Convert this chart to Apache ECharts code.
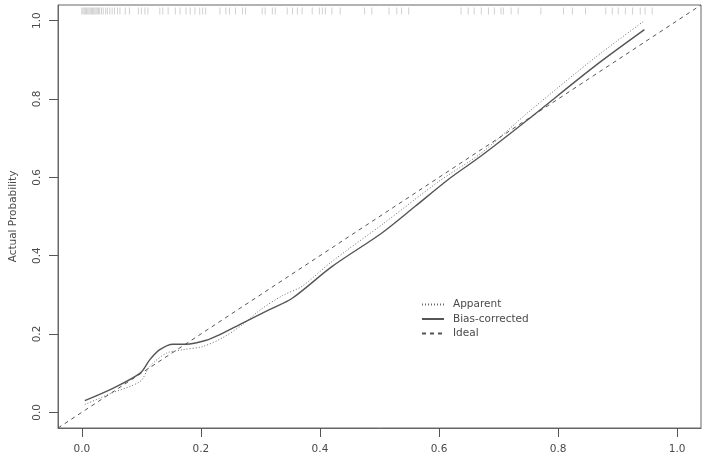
<!DOCTYPE html>
<html>
<head>
<meta charset="utf-8">
<script src="https://cdn.jsdelivr.net/npm/echarts@6/dist/echarts.min.js"></script>
<style>
html, body { margin: 0; padding: 0; background: #fff; }
#chart { width: 708px; height: 459px; }
</style>
</head>
<body>
<div id="chart"></div>
<script>
// tick labels
var tickValues = [0, 0.2, 0.4, 0.6, 0.8, 1.0];

// apparent calibration curve (predicted, actual)
var apparent = [
    [0.005, 0.020], [0.050, 0.049], [0.098, 0.079], [0.114, 0.117], [0.142, 0.151],
    [0.170, 0.160], [0.203, 0.168], [0.236, 0.190], [0.270, 0.224], [0.300, 0.262],
    [0.337, 0.298], [0.370, 0.322], [0.420, 0.385], [0.504, 0.479], [0.600, 0.590],
    [0.671, 0.662], [0.749, 0.765], [0.860, 0.903], [0.945, 1.000]
];

// bias-corrected curve
var biasCorrected = [
    [0.005, 0.030], [0.053, 0.062], [0.098, 0.100], [0.114, 0.134], [0.131, 0.160],
    [0.153, 0.174], [0.175, 0.174], [0.209, 0.184], [0.231, 0.198], [0.270, 0.228],
    [0.315, 0.262], [0.354, 0.292], [0.420, 0.372], [0.504, 0.458], [0.560, 0.526],
    [0.615, 0.594], [0.671, 0.655], [0.749, 0.747], [0.860, 0.882], [0.945, 0.977]
];

// ideal line, corner to corner
var ideal = [[-0.04, -0.04], [1.04, 1.04]];

// rug of predicted probabilities along the top
var rug = [
    0.000, 0.002, 0.004, 0.006, 0.008, 0.010, 0.012, 0.014, 0.016, 0.018,
    0.020, 0.022, 0.024, 0.026, 0.028, 0.030, 0.033, 0.036, 0.040, 0.043,
    0.047, 0.051, 0.055, 0.060, 0.064, 0.073, 0.080, 0.095, 0.100, 0.106,
    0.111, 0.131, 0.136, 0.145, 0.157, 0.165, 0.175, 0.182, 0.190, 0.198,
    0.203, 0.208, 0.232, 0.242, 0.248, 0.258, 0.270, 0.275, 0.303, 0.308,
    0.320, 0.325, 0.345, 0.354, 0.362, 0.370, 0.387, 0.399, 0.404, 0.409,
    0.420, 0.434, 0.475, 0.487, 0.516, 0.529, 0.537, 0.549, 0.637, 0.649,
    0.659, 0.671, 0.683, 0.693, 0.704, 0.708, 0.721, 0.733, 0.771, 0.809,
    0.824, 0.846, 0.880, 0.891, 0.901, 0.913, 0.925, 0.938, 0.946, 0.958
];

var font = 'DejaVu Sans';
var textColor = '#4a4a4a';

function axisBase() {
    return {
        type: 'value',
        min: -0.04,
        max: 1.04,
        axisLine: { show: true, onZero: false, lineStyle: { color: '#666' } },
        splitLine: { show: false },
        axisTick: {
            show: true,
            length: 9,
            customValues: tickValues,
            lineStyle: { color: '#555', width: 1 }
        },
        axisLabel: {
            customValues: tickValues,
            color: textColor,
            fontFamily: font,
            fontSize: 10.5,
            formatter: function (v) { return v.toFixed(1); }
        }
    };
}

var xAxis = axisBase();
xAxis.axisLabel.margin = 16;

var yAxis = axisBase();
yAxis.axisLabel.rotate = 90;
yAxis.axisLabel.margin = 15;
yAxis.name = 'Actual Probability';
yAxis.nameLocation = 'middle';
yAxis.nameRotate = 90;
yAxis.nameGap = 39;
yAxis.nameTextStyle = { color: textColor, fontFamily: font, fontSize: 10.5 };

var chart = echarts.init(document.getElementById('chart'));
chart.setOption({
    animation: false,
    grid: {
        left: 54, right: 7, top: 5, bottom: 31,
        show: true,
        borderColor: '#666'
    },
    legend: {
        orient: 'vertical',
        left: 416,
        top: 294,
        itemWidth: 22,
        itemHeight: 10,
        itemGap: 3.5,
        itemStyle: { opacity: 0 },
        textStyle: { color: textColor, fontFamily: font, fontSize: 10.5, padding: [0, 0, 0, 4] },
        data: ['Apparent', 'Bias-corrected', 'Ideal']
    },
    xAxis: xAxis,
    yAxis: yAxis,
    series: [
        {
            name: 'Apparent',
            type: 'line',
            data: apparent,
            symbol: 'none',
            smooth: 0.3,
            lineStyle: { color: '#6a6a6a', width: 1, type: [1, 2] },
            itemStyle: { color: '#6a6a6a' }
        },
        {
            name: 'Bias-corrected',
            type: 'line',
            data: biasCorrected,
            symbol: 'none',
            smooth: 0.3,
            lineStyle: { color: '#555', width: 1.4, type: 'solid' },
            itemStyle: { color: '#555' }
        },
        {
            name: 'Ideal',
            type: 'line',
            data: ideal,
            symbol: 'none',
            lineStyle: { color: '#555', width: 1, type: [4, 4] },
            itemStyle: { color: '#555' }
        },
        {
            name: 'rug',
            type: 'scatter',
            silent: true,
            symbol: 'rect',
            symbolSize: [1, 7],
            itemStyle: { color: '#c4c4c4' },
            data: rug.map(function (v) { return [v, 1.025]; })
        }
    ]
});
</script>
</body>
</html>
